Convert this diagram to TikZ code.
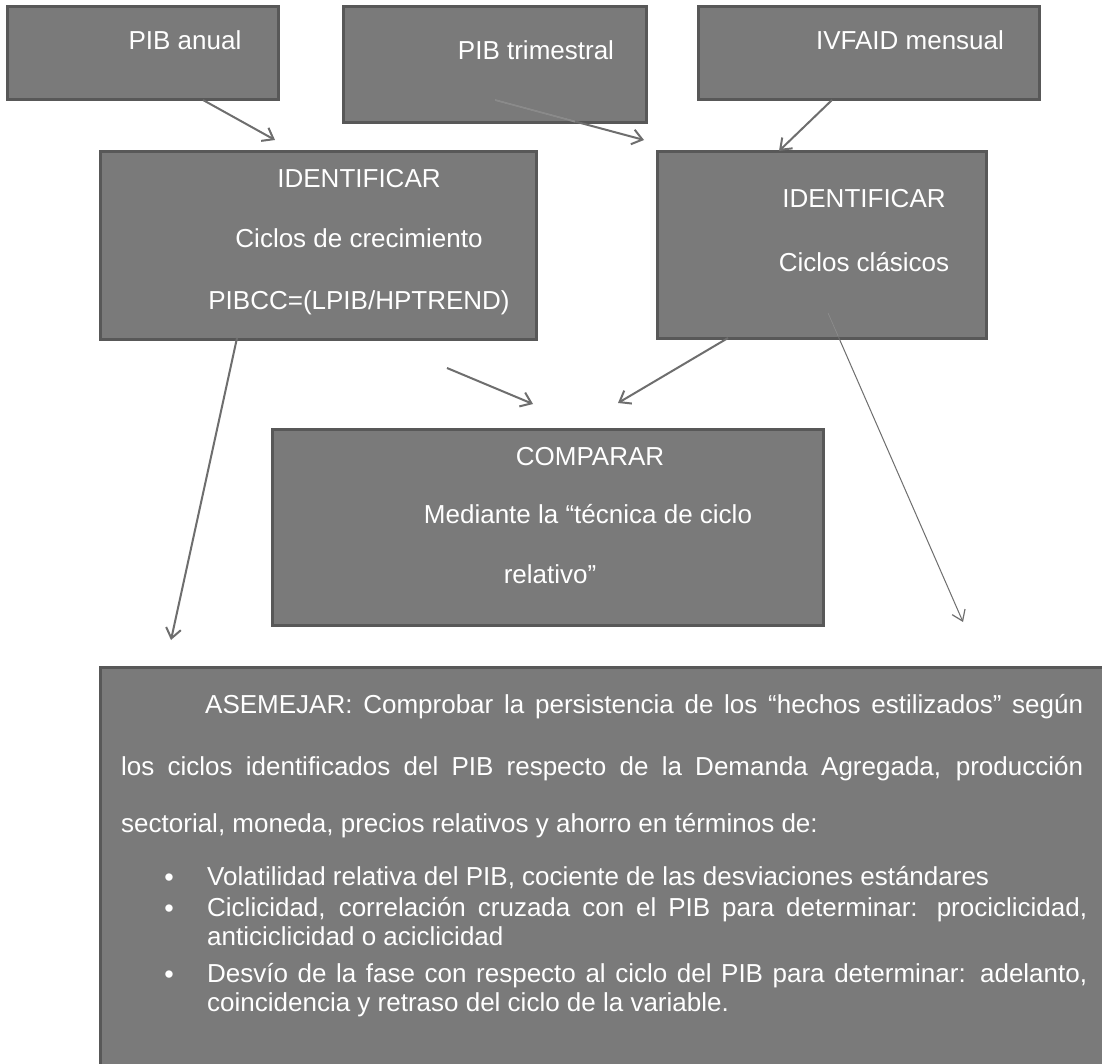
\documentclass[tikz,border=0pt]{standalone}
\usepackage{fontspec}
\setmainfont{Liberation Sans}
\usetikzlibrary{arrows.meta}
\definecolor{boxfill}{HTML}{7A7A7A}
\definecolor{boxline}{HTML}{585858}
\definecolor{arr}{HTML}{6E6E6E}
\definecolor{arrin}{HTML}{8A8A8A}
\begin{document}
\begin{tikzpicture}[x=1pt,y=-1pt,
  box/.style={draw=boxline, fill=boxfill, line width=3pt, anchor=north west, inner sep=0pt, outer sep=0pt},
  txt/.style={text=white, font=\fontsize{26}{30}\selectfont, anchor=base, inner sep=0pt},
  txtl/.style={txt, anchor=base west},
  bul/.style={txt, font=\fontsize{27}{27}\selectfont},
  conn/.style={draw=arr, line width=2pt, -{Straight Barb[length=10pt,width=15pt,line width=2pt]}},
  thinconn/.style={draw=arr, line width=1pt, -{Straight Barb[length=10pt,width=14pt,line width=1.2pt]}},
  inner/.style={draw=arrin},
]
\useasboundingbox (0,0) rectangle (1102,1064);
\clip (0,0) rectangle (1102,1064);
\fill[white] (0,0) rectangle (1102,1064);

% boxes
\node[box, minimum width=271pt, minimum height=93pt]  (anual) at (7,7) {};
\node[box, minimum width=303pt, minimum height=116pt] (trim)  at (343,7) {};
\node[box, minimum width=341pt, minimum height=93pt]  (ivf)   at (698,7) {};
\node[box, minimum width=436pt, minimum height=187pt] (idL)   at (100,152) {};
\node[box, minimum width=329pt, minimum height=186pt] (idR)   at (657,152) {};
\node[box, minimum width=551pt, minimum height=196pt] (cmp)   at (272,429) {};
\node[box, minimum width=1030pt, minimum height=420pt] (asm)  at (100,667) {};

% texts in top boxes
\node[txt] (tanual) at (185,50) {PIB anual};
\node[txt] (ttrim)  at (536,60) {PIB trimestral};
\node[txt] (tivf)   at (910,50) {IVFAID mensual};
\node[txt] (tidL1)  at (359,188) {IDENTIFICAR};
\node[txt] (tidL2)  at (359,248) {Ciclos de crecimiento};
\node[txt] (tidL3)  at (359,310) {PIBCC=(LPIB/HPTREND)};
\node[txt] (tidR1)  at (864,208) {IDENTIFICAR};
\node[txt] (tidR2)  at (864,272) {Ciclos clásicos};
\node[txt] (tcmp1)  at (590,465) {COMPARAR};
\node[txt] (tcmp2)  at (588,523) {Mediante la “técnica de ciclo};
\node[txt] (tcmp3)  at (550,583) {relativo”};

% bottom paragraph
\node[txtl] (p1) at (205,713) {\makebox[878pt][s]{ASEMEJAR: Comprobar la persistencia de los “hechos estilizados” según}};
\node[txtl] (p2) at (121,775) {\makebox[962pt][s]{los ciclos identificados del PIB respecto de la Demanda Agregada, producción}};
\node[txtl] (p3) at (121,832) {sectorial, moneda, precios relativos y ahorro en términos de:};

% bullets
\node[bul] (b1) at (169,886) {•};
\node[bul] (b2) at (169,917) {•};
\node[bul] (b3) at (169,983) {•};
\node[txtl] (i1)  at (207,885) {Volatilidad relativa del PIB, cociente de las desviaciones estándares};
\node[txtl] (i2a) at (207,916) {\makebox[880pt][s]{Ciclicidad, correlación cruzada con el PIB para determinar: prociclicidad,}};
\node[txtl] (i2b) at (207,945) {anticiclicidad o aciclicidad};
\node[txtl] (i3a) at (207,982) {\makebox[880pt][s]{Desvío de la fase con respecto al ciclo del PIB para determinar: adelanto,}};
\node[txtl] (i3b) at (207,1011) {coincidencia y retraso del ciclo de la variable.};

% connector end points
\coordinate (a1s) at (203,100); \coordinate (a1e) at (275,140);
\coordinate (a2s) at (495,100); \coordinate (a2b) at (575,121.5); \coordinate (a2e) at (644,140);
\coordinate (a3s) at (832,100); \coordinate (a3e) at (779,151);
\coordinate (a4s) at (447,368); \coordinate (a4e) at (533,404);
\coordinate (a5s) at (728,338); \coordinate (a5e) at (618,403);
\coordinate (a6s) at (237,338); \coordinate (a6e) at (171,640);
\coordinate (a7s) at (828,313); \coordinate (a7b) at (838.3,336.5); \coordinate (a7e) at (963,622);

\draw[conn] (a1s) -- (a1e);
\draw[conn] (a2s) -- (a2e);
\draw[inner, line width=2pt] (a2s) -- (a2b);
\draw[conn] (a3s) -- (a3e);
\draw[conn] (a4s) -- (a4e);
\draw[conn] (a5s) -- (a5e);
\draw[conn] (a6s) -- (a6e);
\draw[thinconn] (a7s) -- (a7e);
\draw[inner, line width=1pt] (a7s) -- (a7b);
\end{tikzpicture}
\end{document}
